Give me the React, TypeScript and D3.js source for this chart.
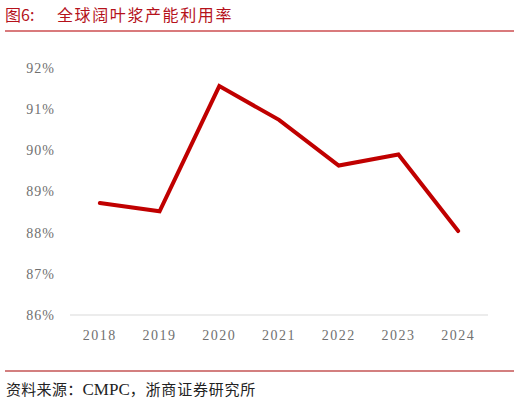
import * as d3 from 'd3';
import { useEffect, useRef } from 'react';

const years = ['2018', '2019', '2020', '2021', '2022', '2023', '2024'];
const utilization = [88.72, 88.52, 91.56, 90.74, 89.63, 89.9, 88.04];
const yTicks = [86, 87, 88, 89, 90, 91, 92];

const figNo = '图6:';
const title = '全球阔叶浆产能利用率';
const sourceLead = '资料来源：';
const sourceOrg = 'CMPC';
const sourceTail = '，浙商证券研究所';

const W = 520;
const H = 402;
const SERIF = 'Liberation Serif, Times New Roman, serif';
const CJK = 'Noto Sans CJK SC, sans-serif';

export default function App() {
  const ref = useRef<SVGSVGElement | null>(null);

  useEffect(() => {
    const svg = d3.select(ref.current);
    svg.selectAll('*').remove();

    const margin = { left: 70, right: 32, top: 68, bottom: 87 };

    const x = d3.scaleBand()
      .domain(years)
      .range([margin.left, W - margin.right]);

    const y = d3.scaleLinear()
      .domain([86, 92])
      .range([H - margin.bottom, margin.top]);

    // header
    svg.append('text')
      .attr('x', 5)
      .attr('y', 21)
      .attr('fill', '#b5121b')
      .attr('font-family', CJK)
      .attr('font-size', 16)
      .text(figNo);

    svg.append('text')
      .attr('x', 57)
      .attr('y', 21)
      .attr('fill', '#b5121b')
      .attr('font-family', CJK)
      .attr('font-size', 16)
      .attr('letter-spacing', 1.6)
      .text(title);

    svg.append('line')
      .attr('x1', 5).attr('x2', 514)
      .attr('y1', 31).attr('y2', 31)
      .attr('stroke', '#d97a7c')
      .attr('stroke-width', 2);

    // y labels
    svg.append('g')
      .selectAll('text')
      .data(yTicks)
      .enter()
      .append('text')
      .attr('x', 55)
      .attr('y', (d) => y(d))
      .attr('dy', '0.35em')
      .attr('text-anchor', 'end')
      .attr('fill', '#707070')
      .attr('font-family', SERIF)
      .attr('font-size', 14)
      .attr('letter-spacing', 1)
      .text((d) => d + '%');

    // x axis line
    svg.append('line')
      .attr('x1', margin.left).attr('x2', W - margin.right)
      .attr('y1', y(86)).attr('y2', y(86))
      .attr('stroke', '#d9d9d9')
      .attr('stroke-width', 1.2);

    // x labels
    svg.append('g')
      .selectAll('text')
      .data(years)
      .enter()
      .append('text')
      .attr('x', (d) => (x(d) || 0) + x.bandwidth() / 2)
      .attr('y', 340)
      .attr('text-anchor', 'middle')
      .attr('fill', '#707070')
      .attr('font-family', SERIF)
      .attr('font-size', 14)
      .attr('letter-spacing', 1.5)
      .text((d) => d);

    const line = d3.line<number>()
      .x((d, i) => (x(years[i]) || 0) + x.bandwidth() / 2)
      .y((d) => y(d));

    svg.append('path')
      .datum(utilization)
      .attr('d', line)
      .attr('fill', 'none')
      .attr('stroke', '#c00000')
      .attr('stroke-width', 4)
      .attr('stroke-linejoin', 'miter')
      .attr('stroke-linecap', 'round');

    // footer
    svg.append('line')
      .attr('x1', 5).attr('x2', 514)
      .attr('y1', 371).attr('y2', 371)
      .attr('stroke', '#a80000')
      .attr('stroke-width', 1.2);

    const foot = svg.append('text')
      .attr('x', 6)
      .attr('y', 395)
      .attr('fill', '#222')
      .attr('font-size', 15);
    foot.append('tspan').attr('font-family', CJK).attr('letter-spacing', 0.3).text(sourceLead);
    foot.append('tspan').attr('font-family', SERIF).attr('font-size', 17).text(sourceOrg);
    foot.append('tspan').attr('font-family', CJK).attr('letter-spacing', 0.8).text(sourceTail);
  }, []);

  return (
    <svg
      ref={ref}
      width={W}
      height={H}
      style={{ position: 'absolute', left: 0, top: 0, background: '#fff' }}
    />
  );
}
